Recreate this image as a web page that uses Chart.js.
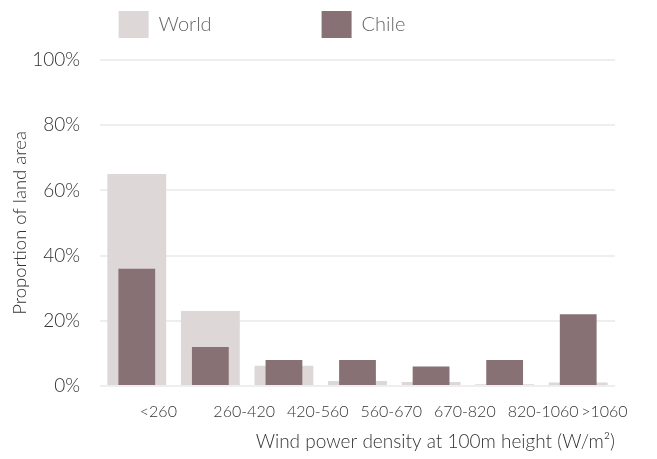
<!DOCTYPE html>
<html>
<head>
<meta charset="utf-8">
<script src="https://cdn.jsdelivr.net/npm/chart.js@4"></script>
<style>
html,body{margin:0;padding:0;background:#fff;}
#wrap{width:657px;height:459px;}
</style>
</head>
<body>
<div id="wrap"><canvas id="c"></canvas></div>
<script>
const categories = ["<260", "260-420", "420-560", "560-670", "670-820", "820-1060", ">1060"];
const worldValues = [65, 23, 6.2, 1.5, 1.2, 0.5, 1.1];
const chileValues = [36, 12, 8, 8, 6, 8, 22];
const yTicks = [0, 20, 40, 60, 80, 100];

const FONT = "Lato, 'Open Sans', sans-serif";

function spacer() {
  return { text: '', fillStyle: 'rgba(0,0,0,0)', strokeStyle: 'rgba(0,0,0,0)', lineWidth: 0, hidden: false, datasetIndex: -1 };
}

const legendGap = {
  id: 'legendGap',
  beforeLayout(chart) {
    const lg = chart.legend;
    if (lg && !lg._gapPatched) {
      const fit = lg.fit;
      lg.fit = function () { fit.call(this); this.height += 12; };
      lg._gapPatched = true;
    }
  }
};

new Chart(document.getElementById('c'), {
  type: 'bar',
  data: {
    labels: categories,
    datasets: [
      {
        label: 'Chile',
        data: chileValues,
        backgroundColor: '#877175',
        barPercentage: 0.5,
        categoryPercentage: 1,
        grouped: false
      },
      {
        label: 'World',
        data: worldValues,
        backgroundColor: '#ddd7d8',
        barPercentage: 0.8,
        categoryPercentage: 1,
        grouped: false
      }
    ]
  },
  plugins: [legendGap],
  options: {
    responsive: true,
    maintainAspectRatio: false,
    animation: false,
    events: [],
    layout: { padding: { left: 9, right: 42, top: 1, bottom: 6 } },
    plugins: {
      tooltip: { enabled: false },
      legend: {
        position: 'top',
        labels: {
          generateLabels: (chart) => {
            const items = Chart.defaults.plugins.legend.labels.generateLabels(chart);
            const world = items.find(i => i.text === 'World');
            const chile = items.find(i => i.text === 'Chile');
            return [world, spacer(), spacer(), chile, spacer(), spacer()];
          },
          boxWidth: 30,
          boxHeight: 27,
          padding: 10,
          color: '#666',
          font: { family: FONT, size: 20, weight: 300 }
        }
      }
    },
    scales: {
      x: {
        grid: { display: false },
        border: { display: false },
        ticks: {
          align: 'start',
          labelOffset: 3,
          color: '#333',
          padding: 8,
          maxRotation: 0,
          autoSkip: false,
          font: { family: FONT, size: 16, weight: 300 }
        },
        title: {
          display: true,
          text: 'Wind power density at 100m height (W/m²)',
          align: 'end',
          color: '#333',
          padding: { top: 1, bottom: 0 },
          font: { family: FONT, size: 19, weight: 300 }
        }
      },
      y: {
        min: 0,
        max: 100,
        afterBuildTicks: (scale) => { scale.ticks = yTicks.map(v => ({ value: v })); },
        afterFit: (scale) => { scale.width = 91; },
        grid: { color: '#eeeeee', lineWidth: 2, drawTicks: false },
        border: { display: false },
        ticks: {
          callback: (v) => v + '%',
          color: '#333',
          padding: 20,
          font: { family: FONT, size: 19, weight: 300 }
        },
        title: {
          display: true,
          text: 'Proportion of land area',
          color: '#333',
          padding: { top: 0, bottom: 4 },
          font: { family: FONT, size: 18.5, weight: 300 }
        }
      }
    }
  }
});
</script>
</body>
</html>
